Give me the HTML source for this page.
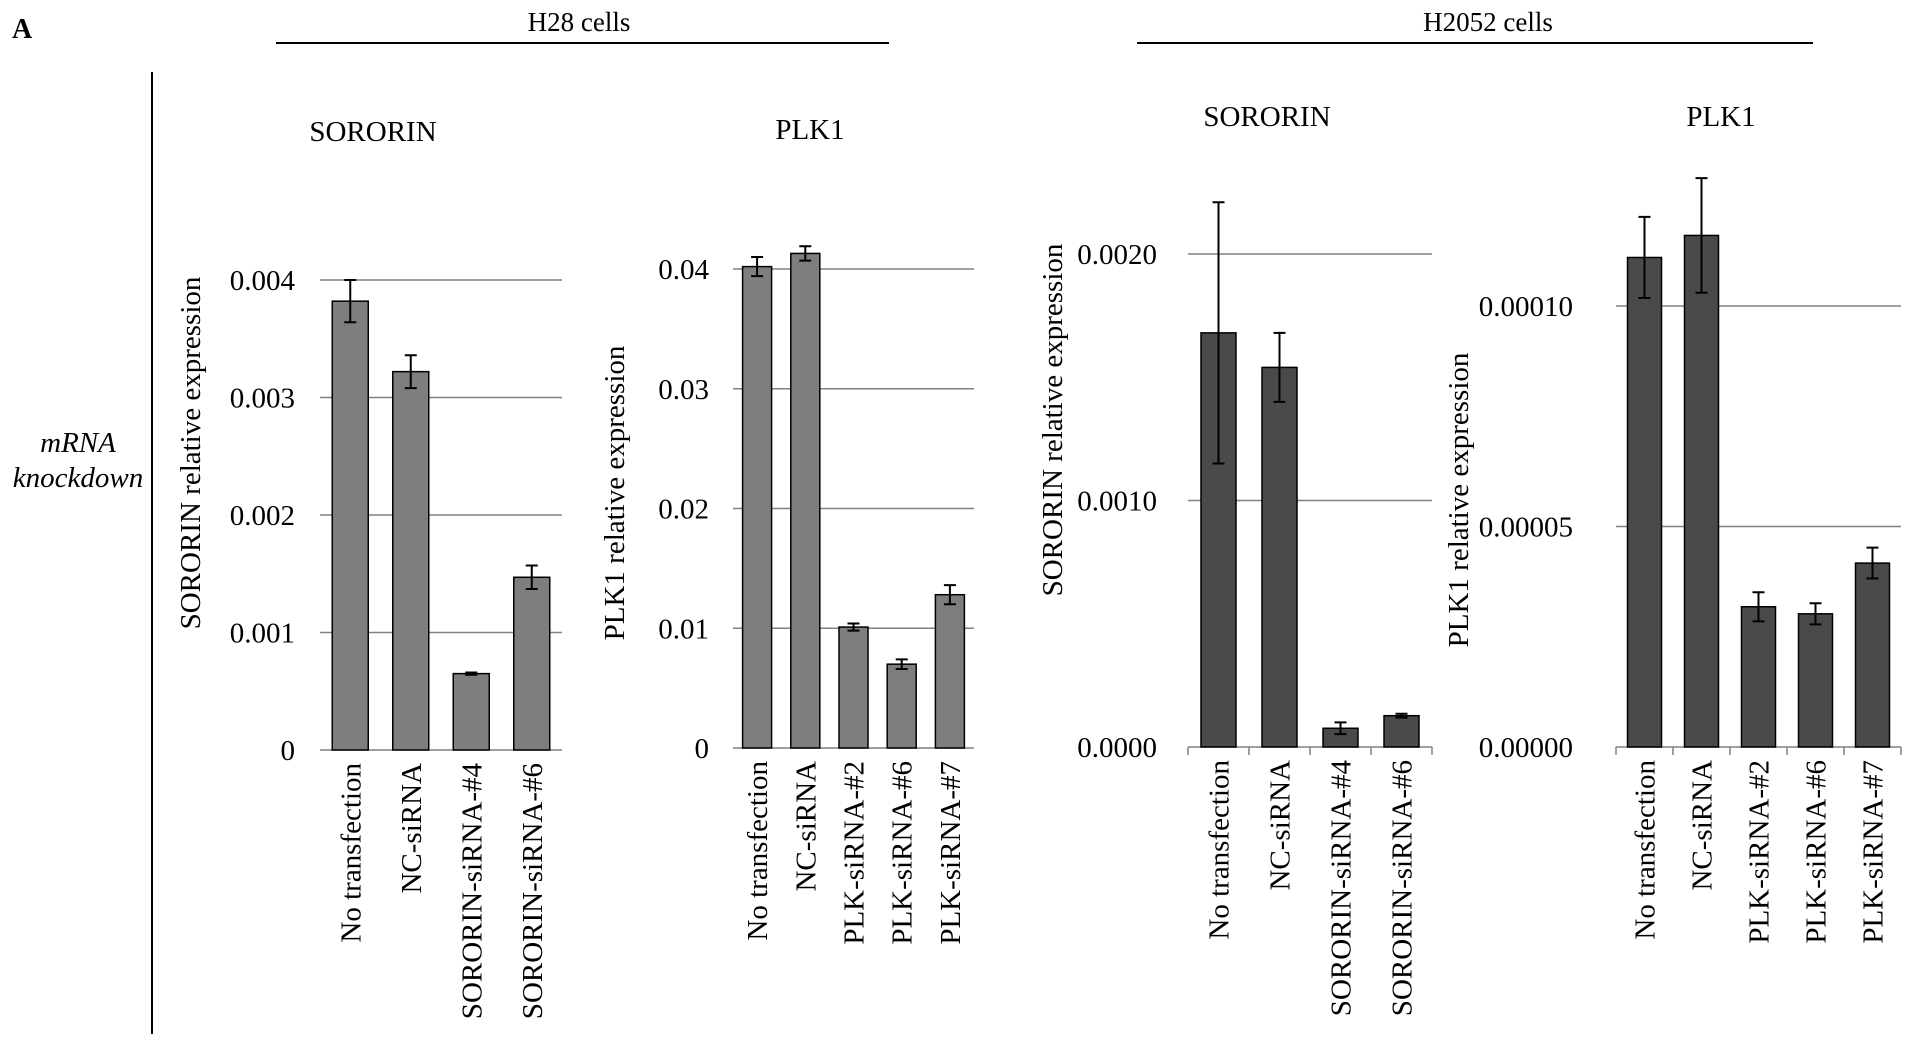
<!DOCTYPE html>
<html><head><meta charset="utf-8"><style>
html,body{margin:0;padding:0;background:#fff;}
svg{display:block;font-family:"Liberation Serif",serif;}
</style></head><body>
<svg id="fig" width="1913" height="1045" viewBox="0 0 1913 1045">
<text x="12" y="38" font-size="28" font-weight="bold">A</text>
<text x="579" y="31" font-size="27" text-anchor="middle">H28 cells</text>
<line x1="276" y1="43" x2="889" y2="43" stroke="#000" stroke-width="2"/>
<text x="1488" y="31" font-size="27" text-anchor="middle">H2052 cells</text>
<line x1="1137" y1="43" x2="1813" y2="43" stroke="#000" stroke-width="2"/>
<line x1="152" y1="72" x2="152" y2="1034" stroke="#000" stroke-width="2"/>
<text x="78" y="452" font-size="29" font-style="italic" text-anchor="middle">mRNA</text>
<text x="78" y="487" font-size="29" font-style="italic" text-anchor="middle">knockdown</text>
</svg>
<script>
// Chart 1: H28 SORORIN
const c1Cats = ["No transfection","NC-siRNA","SORORIN-siRNA-#4","SORORIN-siRNA-#6"];
const c1Vals = [0.00382,0.00322,0.00065,0.00147];
const c1Errs = [0.00018,0.00014,0.00001,0.0001];
const c1Ticks = [0,0.001,0.002,0.003,0.004];
const c1TickLabels = ["0","0.001","0.002","0.003","0.004"];
// Chart 2: H28 PLK1
const c2Cats = ["No transfection","NC-siRNA","PLK-siRNA-#2","PLK-siRNA-#6","PLK-siRNA-#7"];
const c2Vals = [0.0402,0.0413,0.0101,0.0070,0.0128];
const c2Errs = [0.0008,0.0006,0.0003,0.0004,0.0008];
const c2Ticks = [0,0.01,0.02,0.03,0.04];
const c2TickLabels = ["0","0.01","0.02","0.03","0.04"];
// Chart 3: H2052 SORORIN
const c3Cats = ["No transfection","NC-siRNA","SORORIN-siRNA-#4","SORORIN-siRNA-#6"];
const c3Vals = [0.00168,0.00154,0.000076,0.000127];
const c3Errs = [0.00053,0.00014,0.000024,0.000008];
const c3Ticks = [0,0.001,0.002];
const c3TickLabels = ["0.0000","0.0010","0.0020"];
// Chart 4: H2052 PLK1
const c4Cats = ["No transfection","NC-siRNA","PLK-siRNA-#2","PLK-siRNA-#6","PLK-siRNA-#7"];
const c4Vals = [0.000111,0.000116,0.0000318,0.0000302,0.0000417];
const c4Errs = [0.0000092,0.000013,0.0000033,0.0000024,0.0000035];
const c4Ticks = [0,0.00005,0.0001];
const c4TickLabels = ["0.00000","0.00005","0.00010"];

const svg = document.getElementById('fig');
const NS = "http://www.w3.org/2000/svg";
function mk(tag, attrs){const e=document.createElementNS(NS,tag);for(const k in attrs)e.setAttribute(k,attrs[k]);svg.appendChild(e);return e;}

function drawChart(id, cfg, cats, vals, errs, ticks, tickLabels){
  const y = v => cfg.y0 - v/(cfg.vmax) * (cfg.y0 - cfg.yTop);
  const step = (cfg.x1 - cfg.x0)/cats.length;
  const x = i => cfg.x0 + step*(i+0.5);
  ticks.forEach((t,i)=>{
    if(t!==0){
      const g = mk('line',{x1:cfg.x0,x2:cfg.x1,y1:y(t),y2:y(t),stroke:'#808080','stroke-width':1.5});
      
      
    }
    const tl = mk('text',{x:cfg.tickX,y:y(t)+10,'font-size':29,'text-anchor':'end'});
    tl.textContent = tickLabels[i];
    
    
  });
  const ax = mk('line',{x1:cfg.x0,x2:cfg.x1,y1:cfg.y0,y2:cfg.y0,stroke:'#808080','stroke-width':1.5});
  
  
  if(cfg.tickMarks){
    for(let i=0;i<=cats.length;i++){
      const tm = mk('line',{x1:cfg.x0+step*i,x2:cfg.x0+step*i,y1:cfg.y0,y2:cfg.y0+8,stroke:'#808080','stroke-width':1.5});
      
      
    }
  }
  cats.forEach((c,i)=>{
    const top = y(vals[i]);
    const b = mk('rect',{x:x(i)-cfg.bw/2,y:top,width:cfg.bw,height:cfg.y0-top,fill:cfg.fill,stroke:'#000','stroke-width':1.5});
    
    
    const eh = y(vals[i]+errs[i]), el = y(vals[i]-errs[i]);
    const e1 = mk('path',{d:`M${x(i)},${eh}V${el}M${x(i)-6},${eh}H${x(i)+6}M${x(i)-6},${el}H${x(i)+6}`,stroke:'#000','stroke-width':2,fill:'none'});
    
    
    const lab = mk('text',{transform:`translate(${x(i)+10},${cfg.y0+13}) rotate(-90)`,'font-size':29,'text-anchor':'end'});
    lab.textContent = c;
    
    
  });
  const yt = mk('text',{transform:`translate(${cfg.ytX},${cfg.ytY}) rotate(-90)`,'font-size':29,'text-anchor':'middle'});
  yt.textContent = cfg.yTitle;
  
  
  const tt = mk('text',{x:cfg.tX,y:cfg.tY,'font-size':29,'text-anchor':'middle'});
  tt.textContent = cfg.title;
  
  
}

drawChart('h28-sororin',{x0:320,x1:562,y0:750,yTop:280,vmax:0.004,bw:36,fill:'#7e7e7e',tickX:295,ytX:200,ytY:453,yTitle:'SORORIN relative expression',title:'SORORIN',tX:373,tY:141,tickMarks:false},c1Cats,c1Vals,c1Errs,c1Ticks,c1TickLabels);
drawChart('h28-plk1',{x0:733,x1:974,y0:748,yTop:269,vmax:0.04,bw:29,fill:'#7e7e7e',tickX:709,ytX:624,ytY:493,yTitle:'PLK1 relative  expression',title:'PLK1',tX:810,tY:139,tickMarks:false},c2Cats,c2Vals,c2Errs,c2Ticks,c2TickLabels);
drawChart('h2052-sororin',{x0:1188,x1:1432,y0:747,yTop:254,vmax:0.002,bw:35,fill:'#4a4a4a',tickX:1157,ytX:1062,ytY:420,yTitle:'SORORIN relative expression',title:'SORORIN',tX:1267,tY:126,tickMarks:true},c3Cats,c3Vals,c3Errs,c3Ticks,c3TickLabels);
drawChart('h2052-plk1',{x0:1616,x1:1901,y0:747,yTop:306,vmax:0.0001,bw:34,fill:'#4a4a4a',tickX:1573,ytX:1468,ytY:500,yTitle:'PLK1 relative  expression',title:'PLK1',tX:1721,tY:126,tickMarks:true},c4Cats,c4Vals,c4Errs,c4Ticks,c4TickLabels);
</script>
</body></html>
